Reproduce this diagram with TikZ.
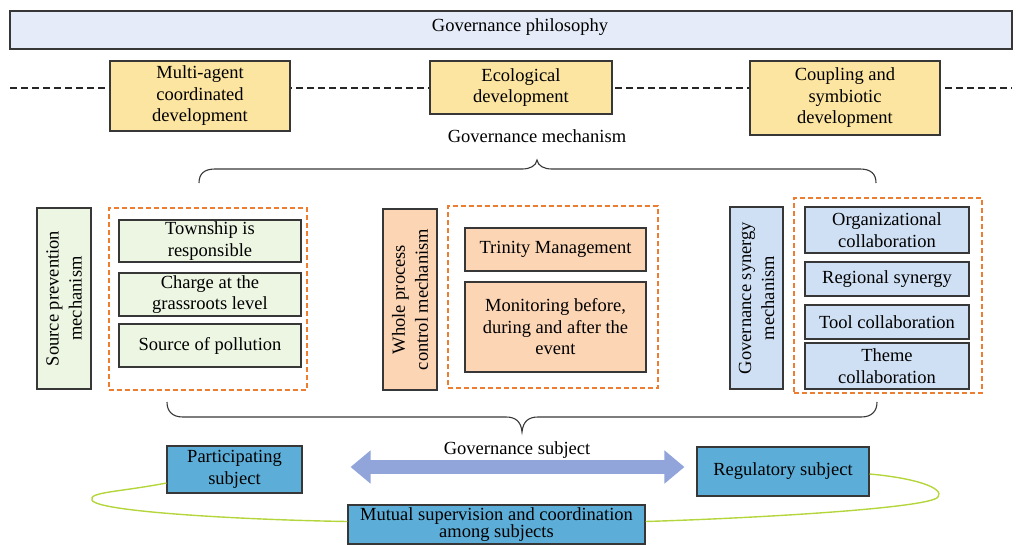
\documentclass[tikz,border=0pt]{standalone}
\usepackage{fontspec}
\setmainfont{Liberation Serif}
\usetikzlibrary{arrows.meta,calc}
\definecolor{bd}{RGB}{55,55,55}
\definecolor{philc}{RGB}{229,235,248}
\definecolor{yel}{RGB}{252,229,160}
\definecolor{grn}{RGB}{236,246,226}
\definecolor{pch}{RGB}{252,213,181}
\definecolor{lbl}{RGB}{208,224,244}
\definecolor{org}{RGB}{237,125,49}
\definecolor{sky}{RGB}{92,174,216}
\definecolor{arrc}{RGB}{145,165,218}
\definecolor{lime}{RGB}{180,214,60}
\newcommand\diagfont{\fontsize{18.5}{21.5}\selectfont}
\begin{document}
\begin{tikzpicture}[x=1pt,y=-1pt,
  box/.style={draw=bd,line width=1.1pt,align=center,inner sep=1pt,font=\diagfont},
  vbox/.style={box,font=\fontsize{18.5}{23}\selectfont},
  dbox/.style={draw=org,line width=1.2pt,dash pattern=on 5pt off 3pt,inner sep=0pt},
  lbl/.style={align=center,inner sep=0pt,font=\diagfont},
  brace/.style={draw=bd,line width=1.1pt},
  loop/.style={draw=lime,line width=1.4pt},
  bigarrow/.style={draw=arrc,line width=14pt,{Triangle[width=32pt,length=20pt]}-{Triangle[width=32pt,length=20pt]}}]
\useasboundingbox (0,0) rectangle (1019,544);

% philosophy
\node[box,fill=philc,minimum width=1002pt,minimum height=38pt] (phil) at (511,30) {};
\node[lbl] (philt) at (520,27) {Governance philosophy};

% dashed line
\coordinate (dl) at (10,88);
\coordinate (dr) at (1012,88);
\draw[black!85,line width=1.1pt,dash pattern=on 7pt off 4pt] (dl) -- (dr);

\node[box,fill=yel,minimum width=180pt,minimum height=70pt] (y1) at (200,96) {Multi-agent\\coordinated\\development};
\node[box,fill=yel,minimum width=182pt,minimum height=53pt] (y2) at (521,87.5) {Ecological\\development};
\node[box,fill=yel,minimum width=190pt,minimum height=74pt] (y3) at (845,98) {Coupling and\\symbiotic\\development};

\node[lbl] (gm) at (537,136) {Governance mechanism};

% top brace
\draw[brace] (199,183) .. controls (199,174) and (204,169) .. (215,169) -- (522,169)
  .. controls (530,169) and (536,166) .. (537,160)
  .. controls (538,166) and (544,169) .. (552,169) -- (860,169)
  .. controls (871,169) and (876,174) .. (876,183);

% left group
\node[vbox,fill=grn,rotate=90,minimum width=181pt,minimum height=54pt] (sp) at (64,298.5) {Source prevention\\mechanism};
\node[dbox,minimum width=198pt,minimum height=182pt] (d1) at (208,299) {};
\node[box,fill=grn,minimum width=182pt,minimum height=42pt] (g1) at (210,241) {Township is\\responsible};
\node[box,fill=grn,minimum width=182pt,minimum height=43pt] (g2) at (210,294.5) {Charge at the\\grassroots level};
\node[box,fill=grn,minimum width=182pt,minimum height=43pt] (g3) at (210,345.5) {Source of pollution};

% middle group
\node[vbox,fill=pch,rotate=90,minimum width=181pt,minimum height=54pt] (wp) at (410,299.5) {Whole process\\control mechanism};
\node[dbox,minimum width=210pt,minimum height=182pt] (d2) at (553,297) {};
\node[box,fill=pch,minimum width=181pt,minimum height=43pt] (p1) at (555.5,249.5) {Trinity Management};
\node[box,fill=pch,minimum width=181pt,minimum height=90pt] (p2) at (555.5,327) {Monitoring before,\\during and after the\\event};

% right group
\node[vbox,fill=lbl,rotate=90,minimum width=182pt,minimum height=53pt] (gsm) at (756.5,298) {Governance synergy\\mechanism};
\node[dbox,minimum width=188pt,minimum height=195pt] (d3) at (888,295.5) {};
\node[box,fill=lbl,minimum width=164pt,minimum height=46pt] (b1) at (887,230) {Organizational\\collaboration};
\node[box,fill=lbl,minimum width=164pt,minimum height=34pt] (b2) at (887,279) {Regional synergy};
\node[box,fill=lbl,minimum width=164pt,minimum height=34pt] (b3) at (887,322) {Tool collaboration};
\node[box,fill=lbl,minimum width=164pt,minimum height=46pt] (b4) at (887,366) {Theme\\collaboration};

% bottom brace
\draw[brace] (167,402) .. controls (167,411) and (172,417) .. (183,417) -- (506,417)
  .. controls (515,417) and (521,421) .. (522,432)
  .. controls (523,421) and (529,417) .. (538,417) -- (861,417)
  .. controls (872,417) and (877,411) .. (877,402);

% subjects
\node[lbl] (gsub) at (517,450) {Governance subject};
\node[box,fill=sky,minimum width=135pt,minimum height=47pt] (ps) at (234.5,469.5) {Participating\\subject};
\node[box,fill=sky,minimum width=172pt,minimum height=49pt] (rs) at (783,471.5) {Regulatory subject};
\node[box,fill=sky,inner sep=0pt,minimum width=297pt,minimum height=39pt,font=\fontsize{18.5}{17}\selectfont] (ms) at (496.5,524.5) {Mutual supervision and coordination\\among subjects};

\draw[bigarrow] ($(ps.east)+(48,-2.5)$) -- ($(rs.west)+(-12,-4.5)$);

\draw[loop] ($(ps.west)+(0,13.5)$) .. controls (120,492) and (88,492) .. (92,500)
  .. controls (96,512) and (250,520) .. ($(ms.west)+(0,-3)$);
\draw[loop] ($(rs.east)+(0,2.5)$) .. controls (915,478) and (945,488) .. (938,497)
  .. controls (930,508) and (760,518) .. ($(ms.east)+(0,-3)$);
\end{tikzpicture}
\end{document}
